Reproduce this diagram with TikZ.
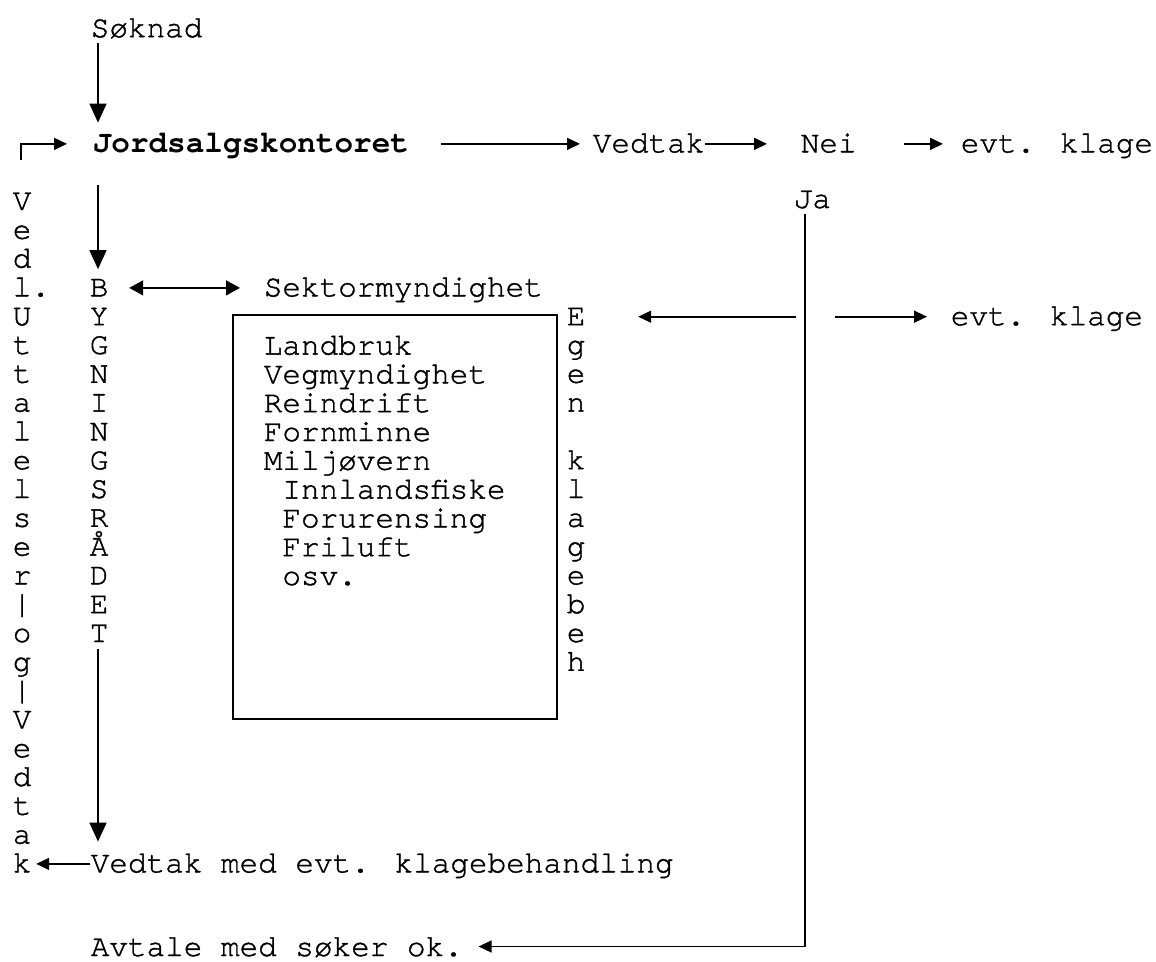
\documentclass[tikz,border=0pt]{standalone}
\usepackage{fontspec}
\setmainfont{TeX Gyre Cursor}[UprightFeatures={FakeBold=1.2}]
\usepackage{tikz}
\usetikzlibrary{arrows.meta}

\begin{document}
\begin{tikzpicture}[
  x=1pt, y=-1pt,
  font={\fontsize{31}{28.8}\selectfont\lineskiplimit=-50pt\relax},
  line width=1.6pt,
  txt/.style={anchor=base west, inner sep=0pt, text height=22pt, text depth=5pt},
  column/.style={anchor=base west, inner sep=0pt, text width=18.6pt, align=left},
  arrow/.style={-{Triangle[length=13pt, width=12pt]}},
  downarrow/.style={-{Triangle[length=19pt, width=17pt]}},
  bothways/.style={{Triangle[length=14pt, width=15pt]}-{Triangle[length=14pt, width=15pt]}}
]
\useasboundingbox (0,0) rectangle (1156,961);

% top line
\node[txt] (soknad) at (90,37.2) {Søknad};
\node[txt] (jord) at (92,152.4) {\bfseries Jordsalgskontoret};
\node[txt] (vedtak) at (592,152.4) {Vedtak};
\node[txt] (nei) at (800,152.4) {Nei};
\node[txt] (klagea) at (960,152.4) {evt. klage};
\node[txt] (ja) at (793,208) {Ja};

% vertical words
\node[column] (vedl) at (12,210) {V\\e\\d\\l\rlap{.}\\U\\t\\t\\a\\l\\e\\l\\s\\e\\r\\|\\o\\g\\|\\V\\e\\d\\t\\a\\k};
\node[column] (bygn) at (89,296.4) {B\\Y\\G\\N\\I\\N\\G\\S\\R\\Å\\D\\E\\T};
\node[column] (egen) at (566,325.2) {E\\g\\e\\n\\~\\k\\l\\a\\g\\e\\b\\e\\h};

% sector authorities
\node[txt] (sektor) at (263,296.4) {Sektormyndighet};
\node[draw, anchor=north west, inner sep=0pt, minimum width=324pt,
  minimum height=404pt] (boks) at (232,314) {};
\node[column, text width=270pt] (etater) at (263,354.6)
  {Landbruk\\Vegmyndighet\\Reindrift\\Fornminne\\Miljøvern\\
   \hspace*{18.6pt}Innlandsfiske\\\hspace*{18.6pt}Forurensing\\
   \hspace*{18.6pt}Friluft\\\hspace*{18.6pt}osv.};
\node[txt] (klageb) at (950,325.2) {evt. klage};

% bottom lines
\node[txt] (vmed) at (90,872.4) {Vedtak med evt. klagebehandling};
\node[txt, text depth=3pt] (avtale) at (90,956) {Avtale med søker ok.};

\coordinate (stem) at (98,0);
\coordinate (tilbake) at (21,160);
\coordinate (trunk) at ([xshift=12pt]ja.south west);

\draw[downarrow, shorten >=7pt] (soknad.south -| stem) -- (jord.north -| stem);
\draw[downarrow, shorten <=27pt, shorten >=9pt] (jord.south -| stem) -- (bygn.north -| stem);
\draw[downarrow, shorten <=6pt, shorten >=8pt] (bygn.south -| stem) -- (vmed.north -| stem);
\draw[arrow, shorten >=25pt] (tilbake) |- (jord.west);
\draw[arrow, shorten <=31pt, shorten >=12pt] (jord.east) -- (vedtak.west);
\draw[arrow, shorten >=33pt] (vedtak.east) -- (nei.west);
\draw[arrow, shorten <=47pt, shorten >=17pt] (nei.east) -- (klagea.west);
\draw[bothways, shorten <=20pt, shorten >=23pt] (sektor.west -| bygn.east) -- (sektor.west);
\draw[arrow, shorten >=15pt] (trunk) |- (avtale.east);
\draw[arrow, shorten <=9pt, shorten >=52pt] (klageb.west -| trunk) -- (klageb.west -| egen.east);
\draw[arrow, shorten <=30pt, shorten >=23pt] (klageb.west -| trunk) -- (klageb.west);
\draw[arrow, shorten >=4pt] (vmed.west) -- (vmed.west -| vedl.east);
\end{tikzpicture}
\end{document}
